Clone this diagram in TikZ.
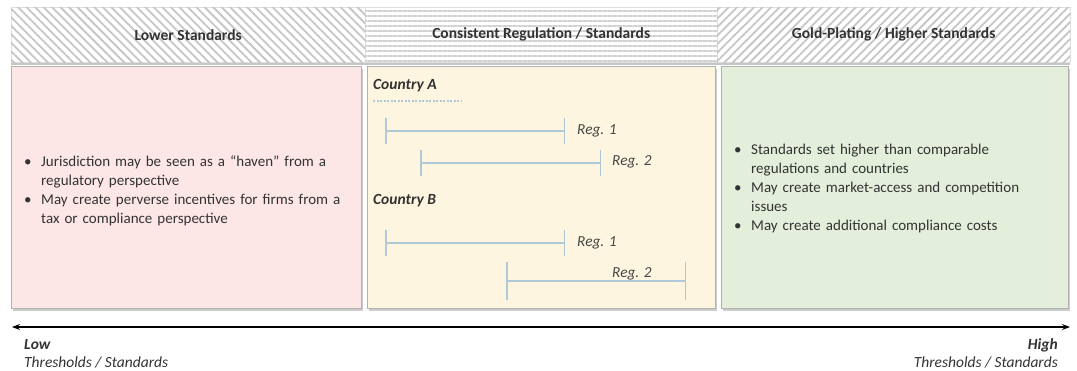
\documentclass[tikz,border=0pt]{standalone}
\usepackage{fontspec}
\setmainfont{Carlito}
\usetikzlibrary{patterns.meta,shadows,arrows.meta}
\definecolor{pinkbg}{HTML}{FDE6E6}
\definecolor{creambg}{HTML}{FEF5E0}
\definecolor{greenbg}{HTML}{E3EFDB}
\definecolor{barcol}{HTML}{B0C9D8}
\definecolor{txt}{HTML}{333333}
\newcommand{\nohyph}{\hyphenpenalty=10000 \exhyphenpenalty=10000 }
\newcommand{\bitem}[1]{\par\noindent\hangindent=20pt\hangafter=1\makebox[20pt][l]{\hspace{3pt}\textbullet}#1\par}
\tikzset{
  hdr/.style={draw=gray!25, fill=white, minimum height=55pt, inner sep=0pt,
    drop shadow={shadow xshift=0pt, shadow yshift=-2.5pt, opacity=0.45, fill=gray}},
  hdrtext/.style={font=\fontsize{15.5}{17}\selectfont\bfseries, text=txt},
  body/.style={draw=gray!60, minimum height=242pt, inner sep=0pt,
    drop shadow={shadow xshift=1.5pt, shadow yshift=-2.5pt, opacity=0.4, fill=gray}},
  bullets/.style={font=\fontsize{15}{19}\selectfont, text=txt, align=left, inner sep=0pt, anchor=north west},
  country/.style={font=\fontsize{15.5}{17}\selectfont\bfseries\itshape, text=txt, anchor=west, inner sep=0pt},
  reglab/.style={font=\fontsize{15.3}{17}\selectfont\itshape, text=txt!90, anchor=west, inner sep=0pt},
  regbar/.style={draw=barcol, line width=1.5pt, {Bar[width=26pt,line width=1.5pt]}-{Bar[width=26pt,line width=1.5pt]}},
  axis/.style={draw=black, line width=1.2pt, {Stealth[length=8pt,width=6pt]}-{Stealth[length=8pt,width=6pt]}},
  axlab/.style={font=\fontsize{15.5}{17}\selectfont\itshape, text=txt, inner sep=0pt},
}
\begin{document}
\begin{tikzpicture}[x=1pt,y=-1pt]
\useasboundingbox (0,0) rectangle (1077,371);
% headers
\node[hdr, minimum width=354pt, anchor=north west,
  postaction={pattern={Lines[angle=-45,distance=6pt,line width=1.8pt]}, pattern color=gray!45}] (h1) at (11,7) {};
\node[hdr, minimum width=352pt, anchor=north west,
  postaction={pattern={Lines[angle=0,distance=5pt,line width=2pt]}, pattern color=gray!35}] (h2) at (365,7) {};
\node[hdr, minimum width=353pt, anchor=north west,
  postaction={pattern={Lines[angle=45,distance=6pt,line width=1.8pt]}, pattern color=gray!45}] (h3) at (717,7) {};
\node[hdrtext] (h1t) at (h1.center) {Lower Standards};
\node[hdrtext] (h2t) at (h2.center) {Consistent Regulation / Standards};
\node[hdrtext] (h3t) at (h3.center) {Gold-Plating / Higher Standards};
% bodies
\node[body, fill=pinkbg, minimum width=350pt, anchor=north west] (b1) at (11,66) {};
\node[body, fill=creambg, minimum width=348pt, anchor=north west] (b2) at (367,66) {};
\node[body, fill=greenbg, minimum width=347pt, anchor=north west] (b3) at (721,66) {};
% left bullets
\node[bullets, text width=340pt] (l1) at (21,147) {\nohyph
\bitem{Jurisdiction may be seen as a “haven” from a regulatory perspective}
\bitem{May create perverse incentives for firms from a tax or compliance perspective}};
% right bullets
\node[bullets, text width=310pt] (r1) at (731,135) {\nohyph
\bitem{Standards set higher than comparable regulations and countries}
\bitem{May create market-access and competition issues}
\bitem{May create additional compliance costs}};
% middle
\node[country] (ca) at (373,86) {Country A};
\draw[barcol, line width=1.5pt, dash pattern=on 2pt off 1.5pt] (373,101) -- (462,101);
\coordinate (a1l) at (385,131); \coordinate (a1r) at (565,131);
\coordinate (a2l) at (420,163); \coordinate (a2r) at (601,163);
\draw[regbar] (a1l) -- (a1r);
\draw[regbar] (a2l) -- (a2r);
\node[reglab] (ra1) at (577,131) {Reg. 1};
\node[reglab] (ra2) at (612,162) {Reg. 2};
\node[country] (cb) at (373,201) {Country B};
\coordinate (b1l) at (385,243); \coordinate (b1r) at (565,243);
\coordinate (b2l) at (506,281); \coordinate (b2r) at (686,281);
\draw[regbar] (b1l) -- (b1r);
\draw[regbar, {Bar[width=38pt,line width=1.5pt]}-{Bar[width=38pt,line width=1.5pt]}] (b2l) -- (b2r);
\node[reglab] (rb1) at (577,243) {Reg. 1};
\node[reglab] (rb2) at (612,274) {Reg. 2};
% axis
\coordinate (axl) at (12,327); \coordinate (axr) at (1070,327);
\draw[axis] (axl) -- (axr);
\node[axlab, font=\fontsize{15.5}{17}\selectfont\bfseries\itshape, anchor=west] (low) at (24,345) {Low};
\node[axlab, anchor=west] (lowt) at (24,362) {Thresholds / Standards};
\node[axlab, font=\fontsize{15.5}{17}\selectfont\bfseries\itshape, anchor=east] (high) at (1058,345) {High};
\node[axlab, anchor=east] (hight) at (1058,362) {Thresholds / Standards};
\end{tikzpicture}
\end{document}
